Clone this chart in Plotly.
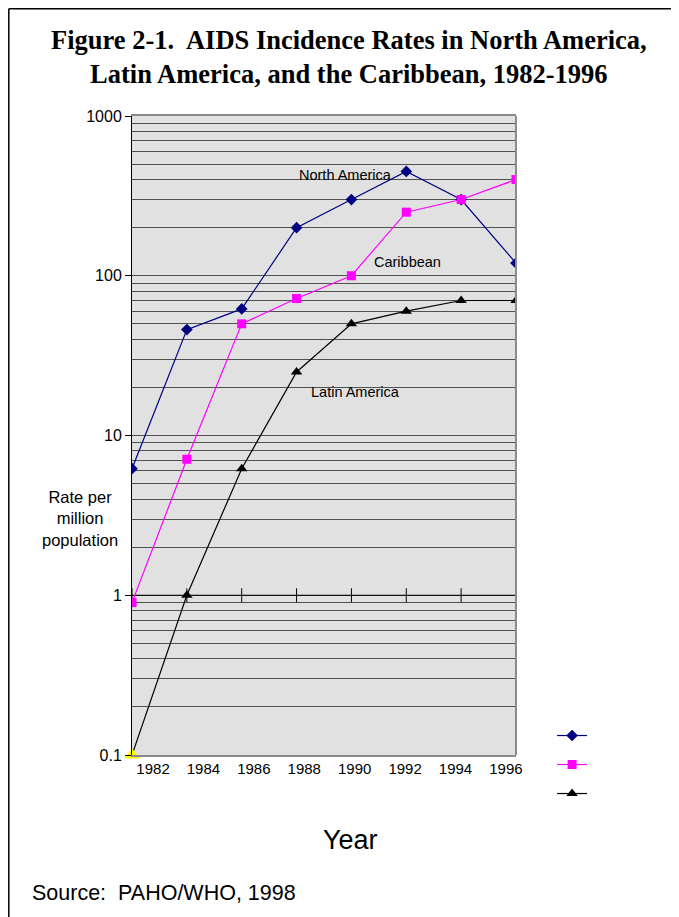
import plotly.graph_objects as go

years = [1982, 1984, 1986, 1988, 1990, 1992, 1994, 1996]
north_america = [6.2, 46, 62, 200, 300, 450, 300, 120]
caribbean = [0.9, 7.1, 50, 72, 100, 250, 300, 400]
latin_america = [0.1, 1.0, 6.2, 25, 50, 60, 70, 70]
year_labels = [str(y) for y in years]
decades = [0.1, 1, 10, 100, 1000]
decade_labels = ["0.1", "1", "10", "100", "1000"]
minor_vals = [m * d for d in [0.1, 1, 10, 100] for m in range(1, 10)] + [1000]

FONT = "Liberation Sans, Arial, sans-serif"
SERIF = "Liberation Serif, Times New Roman, serif"

fig = go.Figure()

# invisible helper traces so the overlay axes get drawn
fig.add_trace(go.Scatter(x=years, y=north_america, xaxis="x", yaxis="y2",
                         mode="markers", marker=dict(opacity=0),
                         showlegend=False, hoverinfo="skip"))
fig.add_trace(go.Scatter(x=years, y=north_america, xaxis="x2", yaxis="y",
                         mode="markers", marker=dict(opacity=0),
                         showlegend=False, hoverinfo="skip"))

# axis crossing at 1 with tick marks
fig.add_trace(go.Scatter(
    x=years, y=[1] * len(years), mode="lines+markers",
    line=dict(color="black", width=1),
    marker=dict(symbol="line-ns", size=10, line=dict(color="black", width=1)),
    showlegend=False, hoverinfo="skip"))

fig.add_trace(go.Scatter(
    x=years, y=north_america, mode="lines+markers", name=" ",
    line=dict(color="#000080", width=1.2),
    marker=dict(symbol="diamond", size=9, color="#000080")))
fig.add_trace(go.Scatter(
    x=years, y=caribbean, mode="lines+markers", name=" ",
    line=dict(color="#ff00ff", width=1.2),
    marker=dict(symbol="square", size=9, color="#ff00ff")))
fig.add_trace(go.Scatter(
    x=years, y=latin_america, mode="lines+markers", name=" ",
    line=dict(color="black", width=1.2),
    marker=dict(symbol="triangle-up", size=10, color="black")))
fig.add_trace(go.Scatter(
    x=years[:1], y=latin_america[:1], mode="markers",
    marker=dict(symbol="triangle-up", size=12, color="#ffff00",
                line=dict(color="#ffff00", width=1)),
    showlegend=False, cliponaxis=False, hoverinfo="skip"))

fig.update_layout(
    width=671, height=909,
    margin=dict(l=124, r=163, t=108, b=162, pad=0),
    paper_bgcolor="white", plot_bgcolor="#e1e1e1",
    font=dict(family=FONT, color="black", size=14),
    xaxis=dict(range=[1982, 1996], showticklabels=False, ticks="",
               showgrid=False, zeroline=False, showline=True,
               linecolor="#8a8a8a", linewidth=2, mirror=True),
    xaxis2=dict(overlaying="x", anchor="y", side="bottom",
                range=[1981.165, 1996.40], tickvals=years, ticktext=year_labels,
                ticks="", showgrid=False, zeroline=False, showline=False,
                ticklabelstandoff=3,
                tickfont=dict(size=15, family=FONT)),
    yaxis=dict(type="log", range=[-1, 3], tickvals=decades, ticktext=decade_labels,
               ticks="outside", ticklen=6, tickcolor="black",
               showgrid=True, gridcolor="#202020", gridwidth=1,
               zeroline=False, showline=True, linecolor="black", linewidth=1,
               tickfont=dict(size=16, family=FONT)),
    yaxis2=dict(type="log", overlaying="y", anchor="x", side="left",
                range=[-1, 3], tickvals=minor_vals, showticklabels=False,
                ticks="", showgrid=True, gridcolor="#505050", gridwidth=1,
                zeroline=False, showline=False),
    legend=dict(x=1.094, y=0.061, xanchor="left", yanchor="top",
                font=dict(size=20), bgcolor="rgba(0,0,0,0)",
                tracegroupgap=0),
    showlegend=True,
)

top_frame = 1 + (108 - 0.8) / 639
left_frame = -(124 - 0.8) / 384
shapes = [
    dict(type="line", xref="paper", yref="paper", x0=1, x1=1, y0=0, y1=1,
         line=dict(color="#8a8a8a", width=2)),
    # outer frame
    dict(type="line", xref="paper", yref="paper", x0=left_frame, x1=1.45,
         y0=top_frame, y1=top_frame, line=dict(color="black", width=1.5)),
    dict(type="line", xref="paper", yref="paper", x0=left_frame, x1=left_frame,
         y0=top_frame, y1=-0.26, line=dict(color="black", width=1.5)),
]
fig.update_layout(shapes=shapes)

annotations = [
    dict(text="<b>Figure 2-1.\u00a0 AIDS Incidence Rates in North America,<br>"
              "Latin America, and the Caribbean, 1982-1996</b>",
         xref="paper", yref="paper", x=0.5 + (349 - 324) / 384, y=(755 - 57) / 639,
         xanchor="center", yanchor="middle",
         showarrow=False, font=dict(family=SERIF, size=26.5, color="black")),
    dict(text="North America", x=1989.8, y=2.63, showarrow=False,
         font=dict(size=14.5)),
    dict(text="Caribbean", x=1992.05, y=2.085, showarrow=False,
         font=dict(size=14.5)),
    dict(text="Latin America", x=1990.15, y=1.27, showarrow=False,
         font=dict(size=14.5)),
    dict(text="Rate per<br>million<br>population", xref="paper", yref="paper",
         x=(80 - 132) / 384, y=(755 - 518) / 639, xanchor="center", yanchor="middle",
         showarrow=False, font=dict(size=16.5)),
    dict(text="Year", xref="paper", yref="paper",
         x=(350 - 132) / 384, y=(755 - 840) / 639, xanchor="center", yanchor="middle",
         showarrow=False, font=dict(size=27)),
    dict(text="Source:\u00a0 PAHO/WHO, 1998", xref="paper", yref="paper",
         x=(30 - 132) / 384, y=(755 - 893) / 639, xanchor="left", yanchor="middle",
         showarrow=False, font=dict(size=21.5)),
]
fig.update_layout(annotations=annotations)

fig.write_html("out.html")
